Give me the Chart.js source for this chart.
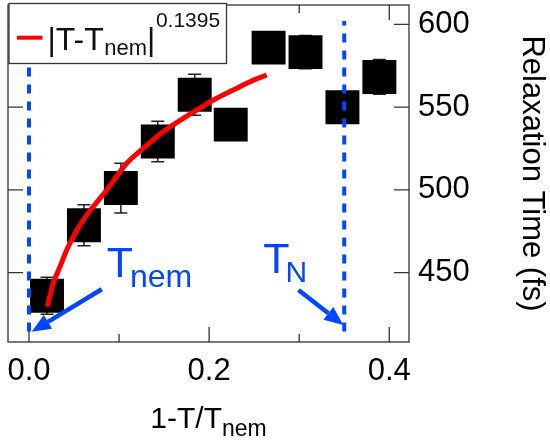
<!DOCTYPE html>
<html lang="en">
<head>
<meta charset="UTF-8">
<title>Relaxation Time vs 1-T/Tnem</title>
<style>
    html, body { margin: 0; padding: 0; background: #fff; }
    #wrap { width: 550px; height: 440px; }
</style>
</head>
<body>
<div id="wrap"><canvas id="relaxChart" width="550" height="440"></canvas></div>
<script src="https://cdn.jsdelivr.net/npm/chart.js"></script>
<script>
// measured relaxation times (fs) against reduced temperature 1-T/Tnem
const reducedTemp = [0.020, 0.061, 0.102, 0.143, 0.184, 0.224, 0.266, 0.307, 0.348, 0.389];
const relaxTime = [436.1, 478.6, 501.1, 529.2, 557.5, 539.4, 585.9, 583.2, 549.9, 568.2];
const relaxErr = [11.2, 12.4, 15.0, 12.2, 12.4, 8.0, 8.0, 10.0, 8.0, 10.5];

// power-law curve |T-Tnem|^0.1395
const fitX = [0.0203, 0.0270, 0.0344, 0.0419, 0.0492, 0.0603, 0.0714, 0.0863, 0.1085, 0.1269,
              0.1491, 0.1713, 0.1898, 0.2084, 0.2268, 0.2454, 0.2639];
const fitY = [429.5, 443.6, 453.6, 463.7, 471.7, 481.8, 489.9, 499.9, 516.1, 525.1,
              535.1, 543.2, 549.3, 555.3, 560.3, 565.3, 569.4];

// transition markers (Tnem and TN)
const tNemX = 0;
const tNX = 0.35;
const markerSpan = [414.5, 602];

// axis ticks
const xTicks = [0, 0.1, 0.2, 0.3, 0.4];
const yTicks = [450, 500, 550, 600];

const FONT = '"Liberation Sans", Arial, Helvetica, sans-serif';
const BLUE = '#0047ff';
const AXIS = '#333';

// arrows pointing at the transition lines, in data coordinates
const arrows = [
    { from: [0.0808, 440.0], to: [0.003, 414.4] },
    { from: [0.2992, 439.5], to: [0.349, 418.4] }
];
const markerLabels = [
    { main: 'T', sub: 'nem', x: 0.0863, y: 447.6, subSize: 32, drop: 10, gap: -3 },
    { main: 'T', sub: 'N', x: 0.2601, y: 450.0, subSize: 30, drop: 9, gap: -4 }
];

function drawArrow(ctx, x1, y1, x2, y2) {
    const ang = Math.atan2(y2 - y1, x2 - x1);
    const head = 19, half = 8;
    const bx = x2 - head * Math.cos(ang), by = y2 - head * Math.sin(ang);
    ctx.beginPath();
    ctx.moveTo(x1, y1);
    ctx.lineTo(bx, by);
    ctx.lineWidth = 4.5;
    ctx.strokeStyle = BLUE;
    ctx.stroke();
    ctx.beginPath();
    ctx.moveTo(x2, y2);
    ctx.lineTo(bx + half * Math.sin(ang), by - half * Math.cos(ang));
    ctx.lineTo(bx - half * Math.sin(ang), by + half * Math.cos(ang));
    ctx.closePath();
    ctx.fillStyle = BLUE;
    ctx.fill();
}

const decor = {
    id: 'decor',
    beforeDatasetsDraw(chart) {
        const { ctx, chartArea: a, scales: { x, y } } = chart;
        ctx.save();
        ctx.strokeStyle = AXIS;
        ctx.lineWidth = 1.3;
        ctx.strokeRect(a.left, a.top, a.right - a.left, a.bottom - a.top);

        // inward ticks on all four sides
        ctx.beginPath();
        yTicks.forEach(v => {
            const py = y.getPixelForValue(v);
            ctx.moveTo(a.left, py); ctx.lineTo(a.left + 15, py);
            ctx.moveTo(a.right, py); ctx.lineTo(a.right - 15, py);
        });
        xTicks.forEach(v => {
            const px = x.getPixelForValue(v);
            const len = Math.round(v * 10) % 2 === 0 ? 15 : 8;
            ctx.moveTo(px, a.bottom); ctx.lineTo(px, a.bottom - len);
            ctx.moveTo(px, a.top); ctx.lineTo(px, a.top + len);
        });
        ctx.stroke();

        // error bars sit behind the square markers
        ctx.strokeStyle = '#222';
        ctx.lineWidth = 1.5;
        ctx.beginPath();
        reducedTemp.forEach((t, i) => {
            const px = x.getPixelForValue(t);
            const top = y.getPixelForValue(relaxTime[i] + relaxErr[i]);
            const bot = y.getPixelForValue(relaxTime[i] - relaxErr[i]);
            ctx.moveTo(px, top); ctx.lineTo(px, bot);
            ctx.moveTo(px - 6.5, top); ctx.lineTo(px + 6.5, top);
            ctx.moveTo(px - 6.5, bot); ctx.lineTo(px + 6.5, bot);
        });
        ctx.stroke();
        ctx.restore();
    },
    afterDatasetsDraw(chart) {
        const { ctx, chartArea: a, scales: { x, y } } = chart;
        ctx.save();

        arrows.forEach(ar => {
            drawArrow(ctx,
                x.getPixelForValue(ar.from[0]), y.getPixelForValue(ar.from[1]),
                x.getPixelForValue(ar.to[0]), y.getPixelForValue(ar.to[1]));
        });

        // Tnem / TN labels
        ctx.fillStyle = BLUE;
        ctx.textBaseline = 'alphabetic';
        ctx.textAlign = 'left';
        markerLabels.forEach(m => {
            const px = x.getPixelForValue(m.x), py = y.getPixelForValue(m.y);
            ctx.font = '43px ' + FONT;
            ctx.fillText(m.main, px, py);
            const w = ctx.measureText(m.main).width;
            ctx.font = m.subSize + 'px ' + FONT;
            ctx.fillText(m.sub, px + w + m.gap, py + m.drop);
        });

        // legend box
        ctx.fillStyle = '#fff';
        ctx.fillRect(9, 3.5, 217.5, 60);
        ctx.strokeStyle = AXIS;
        ctx.lineWidth = 1.3;
        ctx.strokeRect(9, 3.5, 217.5, 60);
        ctx.beginPath();
        ctx.moveTo(17, 37.7); ctx.lineTo(42.5, 37.7);
        ctx.strokeStyle = '#ff0000';
        ctx.lineWidth = 4;
        ctx.stroke();
        ctx.fillStyle = '#111';
        let lx = 47.5;
        ctx.font = '32px ' + FONT;
        ctx.fillText('|T-T', lx, 49.5);
        lx += ctx.measureText('|T-T').width + 0.5;
        ctx.font = '22px ' + FONT;
        ctx.fillText('nem', lx, 55);
        lx += ctx.measureText('nem').width;
        ctx.font = '32px ' + FONT;
        ctx.fillText('|', lx, 49.5);
        lx += ctx.measureText('|').width + 0.5;
        ctx.font = '21px ' + FONT;
        ctx.fillText('0.1395', lx, 26.7);

        // x axis title: 1-T/Tnem
        ctx.fillStyle = '#000';
        ctx.font = '30px ' + FONT;
        const mainW = ctx.measureText('1-T/T').width;
        ctx.font = '23px ' + FONT;
        const subW = ctx.measureText('nem').width;
        const cx = (a.left + a.right) / 2;
        const sx = cx - (mainW + subW) / 2;
        ctx.font = '30px ' + FONT;
        ctx.fillText('1-T/T', sx, 428);
        ctx.font = '23px ' + FONT;
        ctx.fillText('nem', sx + mainW, 436);

        // y axis title, reading downwards on the right
        ctx.translate(532, (a.top + a.bottom) / 2);
        ctx.rotate(Math.PI / 2);
        ctx.textAlign = 'center';
        ctx.textBaseline = 'middle';
        ctx.font = '31px ' + FONT;
        ctx.fillText('Relaxation Time (fs)', 0, 0);
        ctx.restore();
    }
};

const ctx = document.getElementById('relaxChart').getContext('2d');
const relaxChart = new Chart(ctx, {
    type: 'scatter',
    data: {
        datasets: [
            {
                label: 'data',
                data: reducedTemp.map((t, i) => ({ x: t, y: relaxTime[i] })),
                pointStyle: 'rect',
                pointRadius: 24,
                backgroundColor: '#000',
                borderWidth: 0,
                order: 3
            },
            {
                label: 'fit',
                data: fitX.map((t, i) => ({ x: t, y: fitY[i] })),
                showLine: true,
                pointRadius: 0,
                borderColor: '#ff0000',
                borderWidth: 5,
                cubicInterpolationMode: 'monotone',
                order: 2
            },
            {
                label: 'Tnem',
                data: markerSpan.map(v => ({ x: tNemX, y: v })),
                showLine: true,
                pointRadius: 0,
                borderColor: BLUE,
                borderWidth: 4,
                borderDash: [9, 8],
                order: 1
            },
            {
                label: 'TN',
                data: markerSpan.map(v => ({ x: tNX, y: v })),
                showLine: true,
                pointRadius: 0,
                borderColor: BLUE,
                borderWidth: 4,
                borderDash: [9, 8],
                order: 1
            }
        ]
    },
    options: {
        responsive: false,
        animation: false,
        events: [],
        layout: { autoPadding: false, padding: { left: 8, top: 5, right: 0, bottom: 0 } },
        plugins: {
            legend: { display: false },
            tooltip: { enabled: false }
        },
        scales: {
            x: {
                type: 'linear',
                min: -0.0233,
                max: 0.4219,
                afterBuildTicks: s => { s.ticks = xTicks.map(v => ({ value: v })); },
                afterFit: s => { s.height = 98; s.paddingLeft = 0; s.paddingRight = 0; },
                grid: { display: false, drawTicks: false },
                border: { display: false },
                ticks: {
                    autoSkip: false,
                    maxRotation: 0,
                    padding: 11,
                    color: '#000',
                    font: { family: FONT, size: 31 },
                    callback: v => (Math.round(v * 10) % 2 === 0 ? v.toFixed(1) : '')
                }
            },
            y: {
                type: 'linear',
                position: 'right',
                min: 408.15,
                max: 611.65,
                afterBuildTicks: s => { s.ticks = yTicks.map(v => ({ value: v })); },
                afterFit: s => { s.width = 141; s.paddingTop = 0; s.paddingBottom = 0; },
                grid: { display: false, drawTicks: false },
                border: { display: false },
                ticks: {
                    padding: 9,
                    color: '#000',
                    font: { family: FONT, size: 31 },
                    callback: v => String(v)
                }
            }
        }
    },
    plugins: [decor]
});
</script>
</body>
</html>
